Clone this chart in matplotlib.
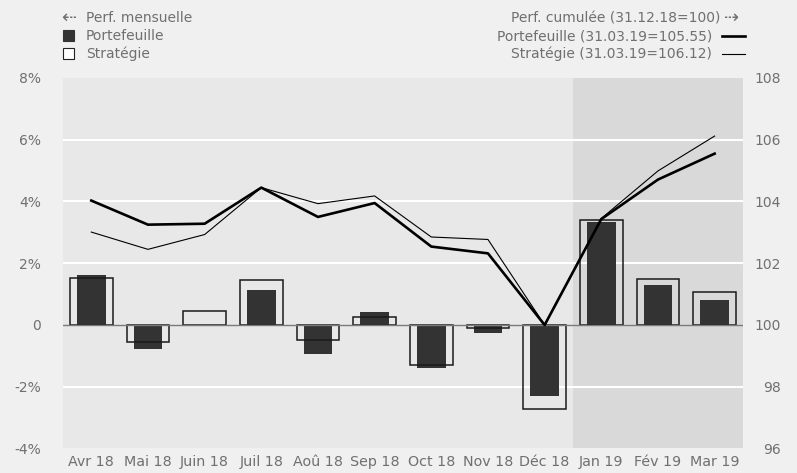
# Perf. mensuelle et cumulee
# portefeuille vs strategie
##################################

# IMPORT STATEMENTS
##################################
import matplotlib
matplotlib.use("Agg")
import matplotlib.pyplot as plt
from matplotlib.lines import Line2D
from matplotlib.patches import Rectangle


# DATA
###################################
months = ["Avr 18", "Mai 18", "Juin 18", "Juil 18", "Aoû 18", "Sep 18",
          "Oct 18", "Nov 18", "Déc 18", "Jan 19", "Fév 19", "Mar 19"]

# monthly performance (%)
port_month  = [1.62, -0.77, 0.00, 1.13, -0.93, 0.42,
               -1.38, -0.25, -2.29, 3.34, 1.30, 0.81]
strat_month = [1.51, -0.54, 0.44, 1.45, -0.50, 0.25,
               -1.30, -0.11, -2.71, 3.40, 1.49, 1.08]

# cumulative performance (31.12.18 = 100)
port_cum  = [104.03, 103.25, 103.28, 104.45, 103.50, 103.95,
             102.54, 102.32, 100.00, 103.43, 104.71, 105.55]
strat_cum = [103.01, 102.45, 102.93, 104.45, 103.93, 104.18,
             102.85, 102.77, 100.00, 103.45, 104.99, 106.12]

left_ticks   = [-4, -2, 0, 2, 4, 6, 8]
left_labels  = ["-4%", "-2%", "0", "2%", "4%", "6%", "8%"]
right_ticks  = [96, 98, 100, 102, 104, 106, 108]
shade_start  = 9   # first month of 2019


# STYLE
###################################
BG_FIG   = "#f0f0f0"
BG_AX    = "#e8e8e8"
BG_SHADE = "#d9d9d9"
DARK     = "#333333"
TXT      = "#707070"
plt.rcParams["font.family"] = ["DejaVu Sans"]


# MAIN SCRIPT
###################################
fig = plt.figure(figsize=(7.97, 4.73), dpi=100, facecolor=BG_FIG)
ax = fig.add_axes([0.0790, 0.0518, 0.8532, 0.7833])
ax.set_facecolor(BG_AX)

x = list(range(len(months)))

# shaded 2019 zone + grid
ax.axvspan(shade_start - 0.5, len(months) - 0.5, color=BG_SHADE, zorder=0, lw=0)
for t in left_ticks[1:-1]:
    if t != 0:
        ax.axhline(t, color="white", lw=1.5, zorder=1)
ax.axhline(0, color="#7a7a7a", lw=1.0, zorder=4)

# monthly bars
ax.bar(x, port_month, width=0.51, color=DARK, zorder=2)
ax.bar(x, strat_month, width=0.75, facecolor="none", edgecolor="#1a1a1a",
       lw=1.1, zorder=3)

ax.set_xlim(-0.5, len(months) - 0.5)
ax.set_ylim(-4, 8)
ax.set_yticks(left_ticks)
ax.set_yticklabels(left_labels)
ax.set_xticks(x)
ax.set_xticklabels(months)
ax.tick_params(axis="y", length=0, pad=16, labelsize=10, labelcolor=TXT)
ax.tick_params(axis="x", length=0, pad=5, labelsize=10.3, labelcolor=TXT)
for s in ax.spines.values():
    s.set_visible(False)

# cumulative lines
ax2 = ax.twinx()
ax2.plot(x, strat_cum, color="black", lw=0.8, zorder=5)
ax2.plot(x, port_cum, color="black", lw=1.9, zorder=6)
ax2.set_ylim(96, 108)
ax2.set_yticks(right_ticks)
ax2.tick_params(axis="y", length=0, pad=27.5, labelsize=10, labelcolor=TXT)
for lab in ax2.get_yticklabels():
    lab.set_horizontalalignment("right")
for s in ax2.spines.values():
    s.set_visible(False)

# legend (left)
W, H = 797.0, 473.0
rows = [18, 36, 54]
fig.text(61 / W, 1 - rows[0] / H, "⇠", color=TXT, fontsize=13, va="center")
fig.text(86 / W, 1 - rows[0] / H, "Perf. mensuelle", color=TXT, fontsize=10, va="center")
fig.patches.append(Rectangle((63 / W, 1 - 41.5 / H), 11 / W, 11 / H,
                             transform=fig.transFigure, facecolor=DARK,
                             edgecolor=DARK, lw=0.8))
fig.text(86 / W, 1 - rows[1] / H, "Portefeuille", color=TXT, fontsize=10, va="center")
fig.patches.append(Rectangle((63 / W, 1 - 59.5 / H), 11 / W, 11 / H,
                             transform=fig.transFigure, facecolor="white",
                             edgecolor="#222222", lw=0.8))
fig.text(86 / W, 1 - rows[2] / H, "Stratégie", color=TXT, fontsize=10, va="center")

# legend (right)
fig.text(720 / W, 1 - rows[0] / H, "Perf. cumulée (31.12.18=100)", color=TXT,
         fontsize=10, va="center", ha="right")
fig.text(724 / W, 1 - rows[0] / H, "⇢", color=TXT, fontsize=13, va="center")
fig.text(712 / W, 1 - rows[1] / H, "Portefeuille (31.03.19=105.55)", color=TXT,
         fontsize=10, va="center", ha="right")
fig.lines.append(Line2D([722 / W, 745 / W], [1 - rows[1] / H, 1 - rows[1] / H],
                        transform=fig.transFigure, color="black", lw=1.9))
fig.text(712 / W, 1 - rows[2] / H, "Stratégie (31.03.19=106.12)", color=TXT,
         fontsize=10, va="center", ha="right")
fig.lines.append(Line2D([722 / W, 745 / W], [1 - rows[2] / H, 1 - rows[2] / H],
                        transform=fig.transFigure, color="black", lw=0.8))

fig.savefig("out.png", dpi=100, facecolor=BG_FIG)
